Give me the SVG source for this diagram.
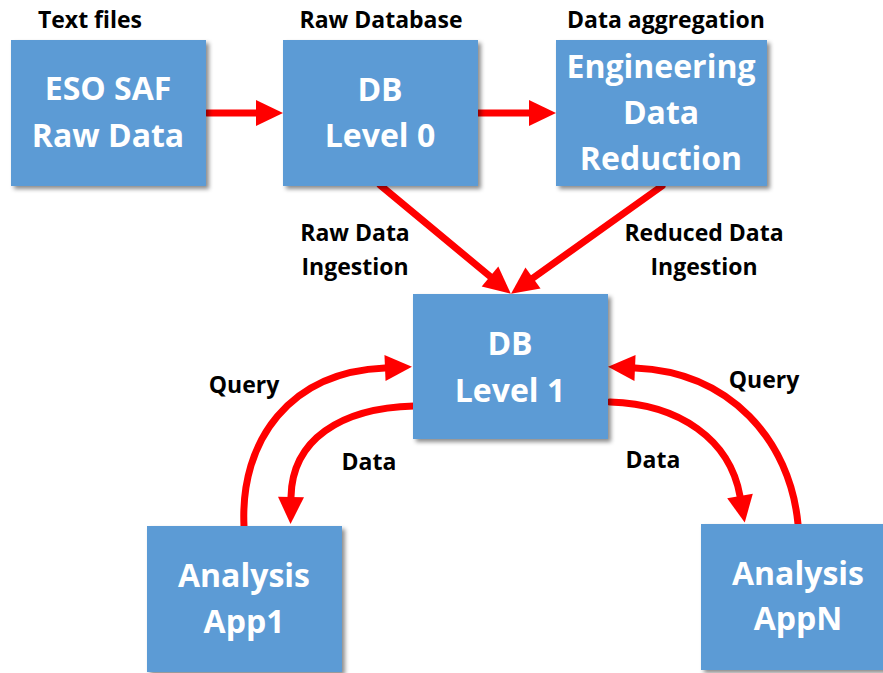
<svg xmlns="http://www.w3.org/2000/svg" width="883" height="673" viewBox="0 0 883 673">
<defs>
<filter id="sh" x="-10%" y="-10%" width="125%" height="130%">
<feDropShadow dx="3" dy="3" stdDeviation="2" flood-color="#000" flood-opacity="0.45"/>
</filter>
<marker id="ah" markerUnits="userSpaceOnUse" markerWidth="30" markerHeight="30" refX="0" refY="0" orient="auto" overflow="visible">
<path d="M0,-13 L27,0 L0,13 z" fill="#FF0000"/>
</marker>
<style>
.box{fill:#5B9BD5;filter:url(#sh);}
.bt{font-family:"Open Sans","Liberation Sans",sans-serif;font-weight:bold;font-size:32px;fill:#fff;text-anchor:middle;}
.lb{font-family:"Open Sans","Liberation Sans",sans-serif;font-weight:bold;font-size:23px;fill:#000;text-anchor:middle;}
.c{fill:none;stroke:#FF0000;stroke-width:7;stroke-linecap:round;marker-end:url(#ah);}
</style>
</defs>
<g id="connectors">
<path class="c" d="M207,113 L256,113"/>
<path class="c" d="M478,113 L529,113"/>
<path class="c" d="M380,185 L490,276.4"/>
<path class="c" d="M662,186 L533,278"/>
<path class="c" d="M244,526 C240,440 290,372 385,368"/>
<path class="c" d="M414,406 C340,408 292,440 291,497"/>
<path class="c" d="M798,524 C790,440 730,372 635,368"/>
<path class="c" d="M610,402 C680,404 730,440 740,496"/>
</g>
<g id="labels">
<text class="lb" x="90" y="28">Text files</text>
<text class="lb" x="381" y="28">Raw Database</text>
<text class="lb" x="666" y="28">Data aggregation</text>
<text class="lb" x="355" y="241">Raw Data</text>
<text class="lb" x="355" y="275">Ingestion</text>
<text class="lb" x="704" y="241">Reduced Data</text>
<text class="lb" x="704" y="275">Ingestion</text>
<text class="lb" x="244" y="393">Query</text>
<text class="lb" x="369" y="470">Data</text>
<text class="lb" x="653" y="468">Data</text>
<text class="lb" x="764" y="388">Query</text>
</g>
<g id="eso">
<rect class="box" x="11" y="40" width="195" height="146"/>
<text class="bt" x="108" y="100">ESO SAF</text>
<text class="bt" x="108" y="147">Raw Data</text>
</g>
<g id="db0">
<rect class="box" x="283" y="40" width="195" height="146"/>
<text class="bt" x="380" y="101">DB</text>
<text class="bt" x="380" y="147">Level 0</text>
</g>
<g id="edr">
<rect class="box" x="556" y="40" width="211" height="146"/>
<text class="bt" x="661" y="78">Engineering</text>
<text class="bt" x="661" y="124">Data</text>
<text class="bt" x="661" y="170">Reduction</text>
</g>
<g id="db1">
<rect class="box" x="413" y="294" width="195" height="145"/>
<text class="bt" x="510" y="355">DB</text>
<text class="bt" x="510" y="402">Level 1</text>
</g>
<g id="app1">
<rect class="box" x="147" y="526" width="195" height="146"/>
<text class="bt" x="244" y="587">Analysis</text>
<text class="bt" x="244" y="633">App1</text>
</g>
<g id="appn">
<rect class="box" x="701" y="524" width="195" height="146"/>
<text class="bt" x="798" y="585">Analysis</text>
<text class="bt" x="798" y="630">AppN</text>
</g>
</svg>
